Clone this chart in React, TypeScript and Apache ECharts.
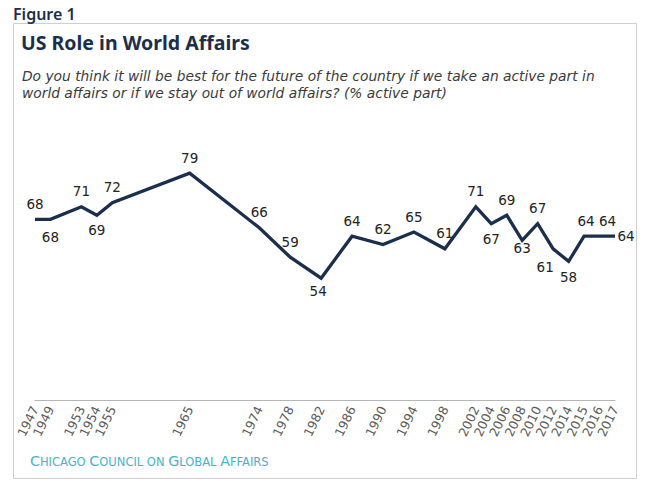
import React, { useEffect, useRef } from "react";
import * as echarts from "echarts";

const years = [1947, 1949, 1953, 1954, 1955, 1965, 1974, 1978, 1982, 1986, 1990, 1994, 1998, 2002, 2004, 2006, 2008, 2010, 2012, 2014, 2015, 2016, 2017];
const activePart = [68, 68, 71, 69, 72, 79, 66, 59, 54, 64, 62, 65, 61, 71, 67, 69, 63, 67, 61, 58, 64, 64, 64];

// label placement per survey year (style config, not data)
const labelPlacement: Record<number, any> = {
  1949: { position: "bottom", distance: 10 },
  1954: { position: "bottom", distance: 7 },
  1982: { position: [-2.5, 6], align: "center", verticalAlign: "top" },
  2004: { position: "bottom", distance: 8 },
  2008: { position: "bottom", distance: 0 },
  2012: { position: [-7.5, 12], align: "center", verticalAlign: "top" },
  2014: { position: "bottom", distance: 8 },
  2015: { position: [2.5, -8], align: "center", verticalAlign: "bottom" },
  2016: { position: [8.5, -8], align: "center", verticalAlign: "bottom" },
  2017: { position: "right", distance: 2 },
};

// The chart's axis spaces one-year gaps as two slots; other gaps by years.
function axisSlots(ys: number[]): number[] {
  const out: number[] = [];
  let acc = 0;
  ys.forEach((y, i) => {
    if (i > 0) {
      const d = y - ys[i - 1];
      acc += d === 1 ? 2 : d;
    }
    out.push(acc);
  });
  return out;
}

const FONT = "Noto Sans";
const WIDE = "DejaVu Sans";

export default function App() {
  const ref = useRef<HTMLDivElement>(null);
  useEffect(() => {
    if (!ref.current) return;
    const chart = echarts.init(ref.current, null, { renderer: "svg" });
    const slots = axisSlots(years);
    const slotToYear: Record<number, number> = {};
    slots.forEach((s, i) => (slotToYear[s] = years[i]));
    const data = slots.map((s, i) => {
      const p = labelPlacement[years[i]];
      const item: any = { value: [s, activePart[i]] };
      if (p) item.label = { ...p };
      return item;
    });
    chart.setOption({
      animation: false,
      backgroundColor: "#ffffff",
      textStyle: { fontFamily: FONT },
      title: [
        {
          text: "Figure 1",
          left: 13,
          top: 6,
          padding: 0,
          textStyle: { fontFamily: FONT, fontSize: 16, fontWeight: 600, color: "#1f2d48" },
        },
        {
          text: "US Role in World Affairs",
          left: 21,
          top: 32,
          padding: 0,
          textStyle: { fontFamily: FONT, fontSize: 19.5, fontWeight: "bold", color: "#1b2e4b" },
        },
        {
          text: "Do you think it will be best for the future of the country if we take an active part in\nworld affairs or if we stay out of world affairs? (% active part)",
          left: 22,
          top: 67,
          padding: 0,
          textStyle: { fontFamily: WIDE, fontSize: 13.8, fontStyle: "italic", fontWeight: "normal", color: "#3a3a3a", lineHeight: 17 },
        },
      ],
      graphic: [
        {
          type: "rect",
          shape: { x: 13.5, y: 23.5, width: 623, height: 455 },
          style: { fill: "none", stroke: "#cfcfcf", lineWidth: 1 },
          silent: true,
        },
        {
          type: "text",
          left: 30,
          top: 454,
          style: {
            text: "{b|C}{s|HICAGO }{b|C}{s|OUNCIL ON }{b|G}{s|LOBAL }{b|A}{s|FFAIRS}",
            rich: {
              b: { fontFamily: WIDE, fontSize: 14.3, fill: "#44b4c8", verticalAlign: "bottom" },
              s: { fontFamily: WIDE, fontSize: 11.5, fill: "#44b4c8", verticalAlign: "bottom" },
            },
          },
        },
      ],
      grid: { left: 35, right: 34, top: 148, bottom: 87, containLabel: false },
      xAxis: {
        type: "value",
        min: 0,
        max: slots[slots.length - 1],
        splitLine: { show: false },
        axisLine: { show: true, lineStyle: { color: "#b5b5b5", width: 1 } },
        axisTick: { show: false },
        axisLabel: {
          customValues: slots,
          rotate: 64,
          margin: 7,
          fontSize: 12.5,
          fontFamily: WIDE,
          color: "#5a5a5a",
          formatter: (v: number) => String(slotToYear[v] ?? ""),
        },
      },
      yAxis: {
        type: "value",
        min: 25,
        max: 85,
        show: false,
        splitLine: { show: false },
      },
      series: [
        {
          type: "line",
          data,
          symbol: "circle",
          symbolSize: 1,
          showSymbol: true,
          itemStyle: { color: "rgba(0,0,0,0)" },
          lineStyle: { color: "#1b2e4b", width: 3.3, join: "miter" },
          label: {
            show: true,
            position: "top",
            distance: 8,
            fontFamily: WIDE,
            fontSize: 13.5,
            color: "#222222",
            formatter: (p: any) => String(p.value[1]),
          },
          labelLayout: { hideOverlap: false },
        },
      ],
    });
    return () => chart.dispose();
  }, []);
  return (
    <div
      ref={ref}
      style={{ position: "fixed", left: 0, top: 0, width: 649, height: 487, background: "#fff" }}
    />
  );
}
